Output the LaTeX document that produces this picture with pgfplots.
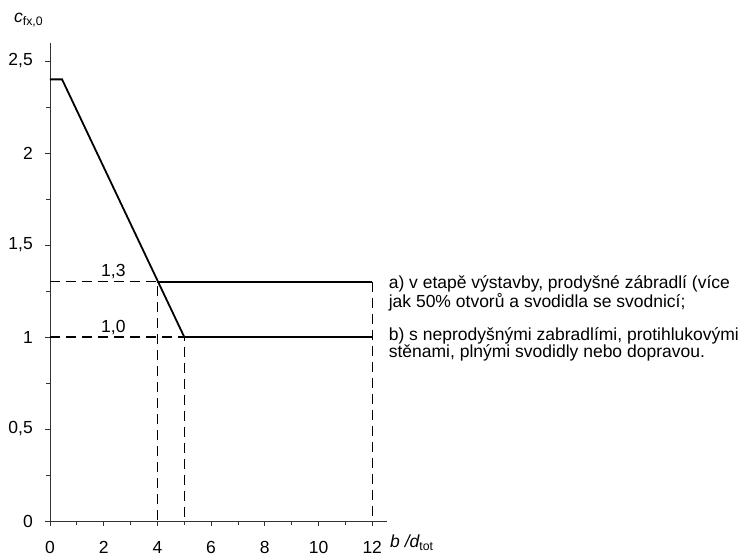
\documentclass[border=0pt]{standalone}
\usepackage{fontspec}
\setmainfont{Liberation Sans}
\usepackage{pgfplots}
\pgfplotsset{compat=1.18}
\begin{document}
\begin{tikzpicture}
\path[use as bounding box] (-50pt,-38pt) rectangle (702pt,521pt);
\begin{axis}[
  scale only axis, width=337pt, height=478.4pt,
  xmin=0, xmax=12.55, ymin=0, ymax=2.6,
  axis x line=bottom, axis y line=left,
  axis line style={-, line width=0.8pt, black!80},
  xtick={0,2,...,12}, minor xtick={1,3,...,11},
  ytick={0,0.5,1,1.5,2,2.5}, minor ytick={0.25,0.75,1.25,1.75,2.25},
  yticklabels={0,{0,5},1,{1,5},2,{2,5}},
  tick align=outside, major tick length=5pt, minor tick length=4pt,
  tick style={black!80, line width=0.8pt},
  /pgf/number format/assume math mode=true,
  ticklabel style={font=\fontsize{17.5}{17.5}\selectfont},
  xticklabel style={anchor=base, inner sep=0pt, yshift=-28pt},
  yticklabel style={anchor=east, inner sep=0pt, xshift=-12pt},
  clip=false,
]
\addplot[black, line width=1.8pt] coordinates {(0,2.4) (0.45,2.4) (5,1) (12,1)};
\addplot[black, line width=1.8pt] coordinates {(4,1.3) (12,1.3)};
\addplot[black, line width=1.4pt, dash pattern=on 10pt off 6pt] coordinates {(0,1.3) (4,1.3) (4,0)};
\addplot[black, line width=1.4pt, dash pattern=on 10pt off 6pt] coordinates {(0,1) (5,1) (5,0)};
\addplot[black, line width=1.4pt, dash pattern=on 10pt off 6pt] coordinates {(12,1.3) (12,0)};
\node[anchor=base, inner sep=0pt, font=\fontsize{17.5}{20}\selectfont] at (axis cs:2.36,1.327) {1,3};
\node[anchor=base, inner sep=0pt, font=\fontsize{17.5}{20}\selectfont] at (axis cs:2.36,1.027) {1,0};
\node[anchor=base west, align=left, inner sep=0pt, font=\fontsize{17.5}{15}\selectfont] at (axis cs:12.61,1.16) {a) v etapě výstavby, prodyšné zábradlí (více\\jak 50\% otvorů a svodidla se svodnicí;};
\node[anchor=base west, align=left, inner sep=0pt, font=\fontsize{17.5}{15}\selectfont] at (axis cs:12.61,0.886) {b) s neprodyšnými zabradlími, protihlukovými\\stěnami, plnými svodidly nebo dopravou.};
\end{axis}
\node[anchor=base west, inner sep=0pt, font=\fontsize{17.5}{20}\selectfont] at (-36pt,498pt) {\itshape c\upshape\textsubscript{fx,0}};
\node[anchor=base west, inner sep=0pt, font=\fontsize{17.5}{20}\selectfont] at (340pt,-27pt) {\itshape b /d\upshape\textsubscript{tot}};
\end{tikzpicture}
\end{document}
